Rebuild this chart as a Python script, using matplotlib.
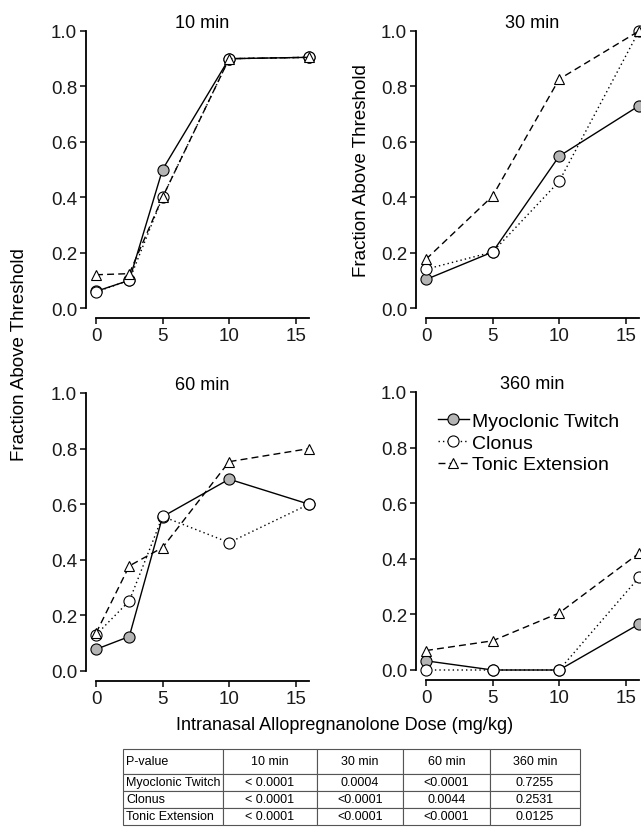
"""Fraction above threshold vs intranasal allopregnanolone dose, four time points."""
import matplotlib
matplotlib.use('Agg')
import matplotlib.pyplot as plt

plt.rcParams['font.family'] = ['Liberation Sans', 'DejaVu Sans']

# Datos
dose_fine = [0, 2.5, 5, 10, 16]
dose_coarse = [0, 5, 10, 16]

twitch_10 = [0.06, 0.10, 0.50, 0.90, 0.905]
clonus_10 = [0.058, 0.10, 0.40, 0.90, 0.905]
tonic_10 = [0.12, 0.124, 0.40, 0.90, 0.905]

twitch_30 = [0.103, 0.202, 0.548, 0.73]
clonus_30 = [0.14, 0.202, 0.457, 1.0]
tonic_30 = [0.176, 0.404, 0.826, 1.0]

twitch_60 = [0.078, 0.124, 0.555, 0.69, 0.60]
clonus_60 = [0.13, 0.252, 0.556, 0.462, 0.60]
tonic_60 = [0.136, 0.378, 0.444, 0.753, 0.80]

twitch_360 = [0.033, 0.0, 0.0, 0.165]
clonus_360 = [0.0, 0.0, 0.0, 0.333]
tonic_360 = [0.07, 0.105, 0.205, 0.42]

panel_titles = ['10 min', '30 min', '60 min', '360 min']
series_names = ['Myoclonic Twitch', 'Clonus', 'Tonic Extension']

table_header = ['P-value', '10 min', '30 min', '60 min', '360 min']
table_rows = [
    ['Myoclonic Twitch', '< 0.0001', '0.0004', '<0.0001', '0.7255'],
    ['Clonus', '< 0.0001', '<0.0001', '0.0044', '0.2531'],
    ['Tonic Extension', '< 0.0001', '<0.0001', '<0.0001', '0.0125'],
]

panels = [
    (dose_fine, twitch_10, clonus_10, tonic_10),
    (dose_coarse, twitch_30, clonus_30, tonic_30),
    (dose_fine, twitch_60, clonus_60, tonic_60),
    (dose_coarse, twitch_360, clonus_360, tonic_360),
]

W, H = 641, 828
fig = plt.figure(figsize=(W / 100, H / 100), dpi=100)

# posiciones en pixeles: (izq, arriba, ancho, alto)
boxes = [(96, 32, 213, 277), (426, 32, 213, 277),
         (96, 394, 213, 278), (426, 393, 213, 278)]

styles = [
    dict(ls='-', marker='o', mfc='#b4b4b4'),
    dict(ls=(0, (1, 2.2)), marker='o', mfc='white'),
    dict(ls=(0, (5, 3)), marker='^', mfc='white'),
]

axes = []
for (x0, top, w, h), title, (xs, a, b, c) in zip(boxes, panel_titles, panels):
    ax = fig.add_axes([x0 / W, (H - top - h) / H, w / W, h / H])
    for ys, st, name in zip((a, b, c), styles, series_names):
        ax.plot(xs, ys, color='black', lw=1.0, ls=st['ls'], marker=st['marker'],
                mfc=st['mfc'], mec='black', mew=0.8, ms=8 if st['marker'] == 'o' else 7.5,
                clip_on=False, label=name)
    ax.set_xlim(0, 16)
    ax.set_ylim(0, 1)
    ax.set_xticks([0, 5, 10, 15])
    ax.set_yticks([0, 0.2, 0.4, 0.6, 0.8, 1.0])
    ax.set_yticklabels(['0.0', '0.2', '0.4', '0.6', '0.8', '1.0'])
    for side in ('top', 'right'):
        ax.spines[side].set_visible(False)
    ax.spines['left'].set_position(('outward', 7))
    ax.spines['bottom'].set_position(('outward', 7))
    ax.spines['left'].set_linewidth(1.3)
    ax.spines['bottom'].set_linewidth(1.3)
    ax.spines['bottom'].set_bounds(0, 16)
    ax.tick_params(labelsize=13.5, width=1.2, length=4.5, pad=2, colors='#1a1a1a')
    ax.set_title(title, fontsize=13, pad=1)
    axes.append(ax)

leg = axes[3].legend(loc='upper left', bbox_to_anchor=(0.0, 0.97), frameon=False,
                     fontsize=14, handlelength=1.6, handletextpad=0.15,
                     labelspacing=0.22, borderaxespad=0.2)

fig.text(20 / W, 1 - 355 / H, 'Fraction Above Threshold', rotation=90,
         ha='center', va='center', fontsize=13.5)
fig.text(362 / W, 1 - 171 / H, 'Fraction Above Threshold', rotation=90,
         ha='center', va='center', fontsize=13.5)
fig.text(345 / W, 1 - 726 / H, 'Intranasal Allopregnanolone Dose (mg/kg)',
         ha='center', va='center', fontsize=13)

# tabla de valores p
tx0, ttop, tw, th = 123, 750, 457, 76
ax_t = fig.add_axes([tx0 / W, (H - ttop - th) / H, tw / W, th / H])
ax_t.axis('off')
col_w = [100, 94, 86, 87, 90]
tbl = ax_t.table(cellText=table_rows, colLabels=table_header,
                 colWidths=[c / sum(col_w) for c in col_w], bbox=[0, 0, 1, 1])
tbl.auto_set_font_size(False)
tbl.set_fontsize(9)
for (r, c), cell in tbl.get_celld().items():
    cell.set_edgecolor('#555555')
    cell.set_linewidth(0.8)
    cell.set_height(25 if r == 0 else 17)
    cell.get_text().set_ha('left' if c == 0 else 'center')
    cell._loc = 'left' if c == 0 else 'center'
    cell.PAD = 0.03

fig.savefig('out.png', dpi=100)
